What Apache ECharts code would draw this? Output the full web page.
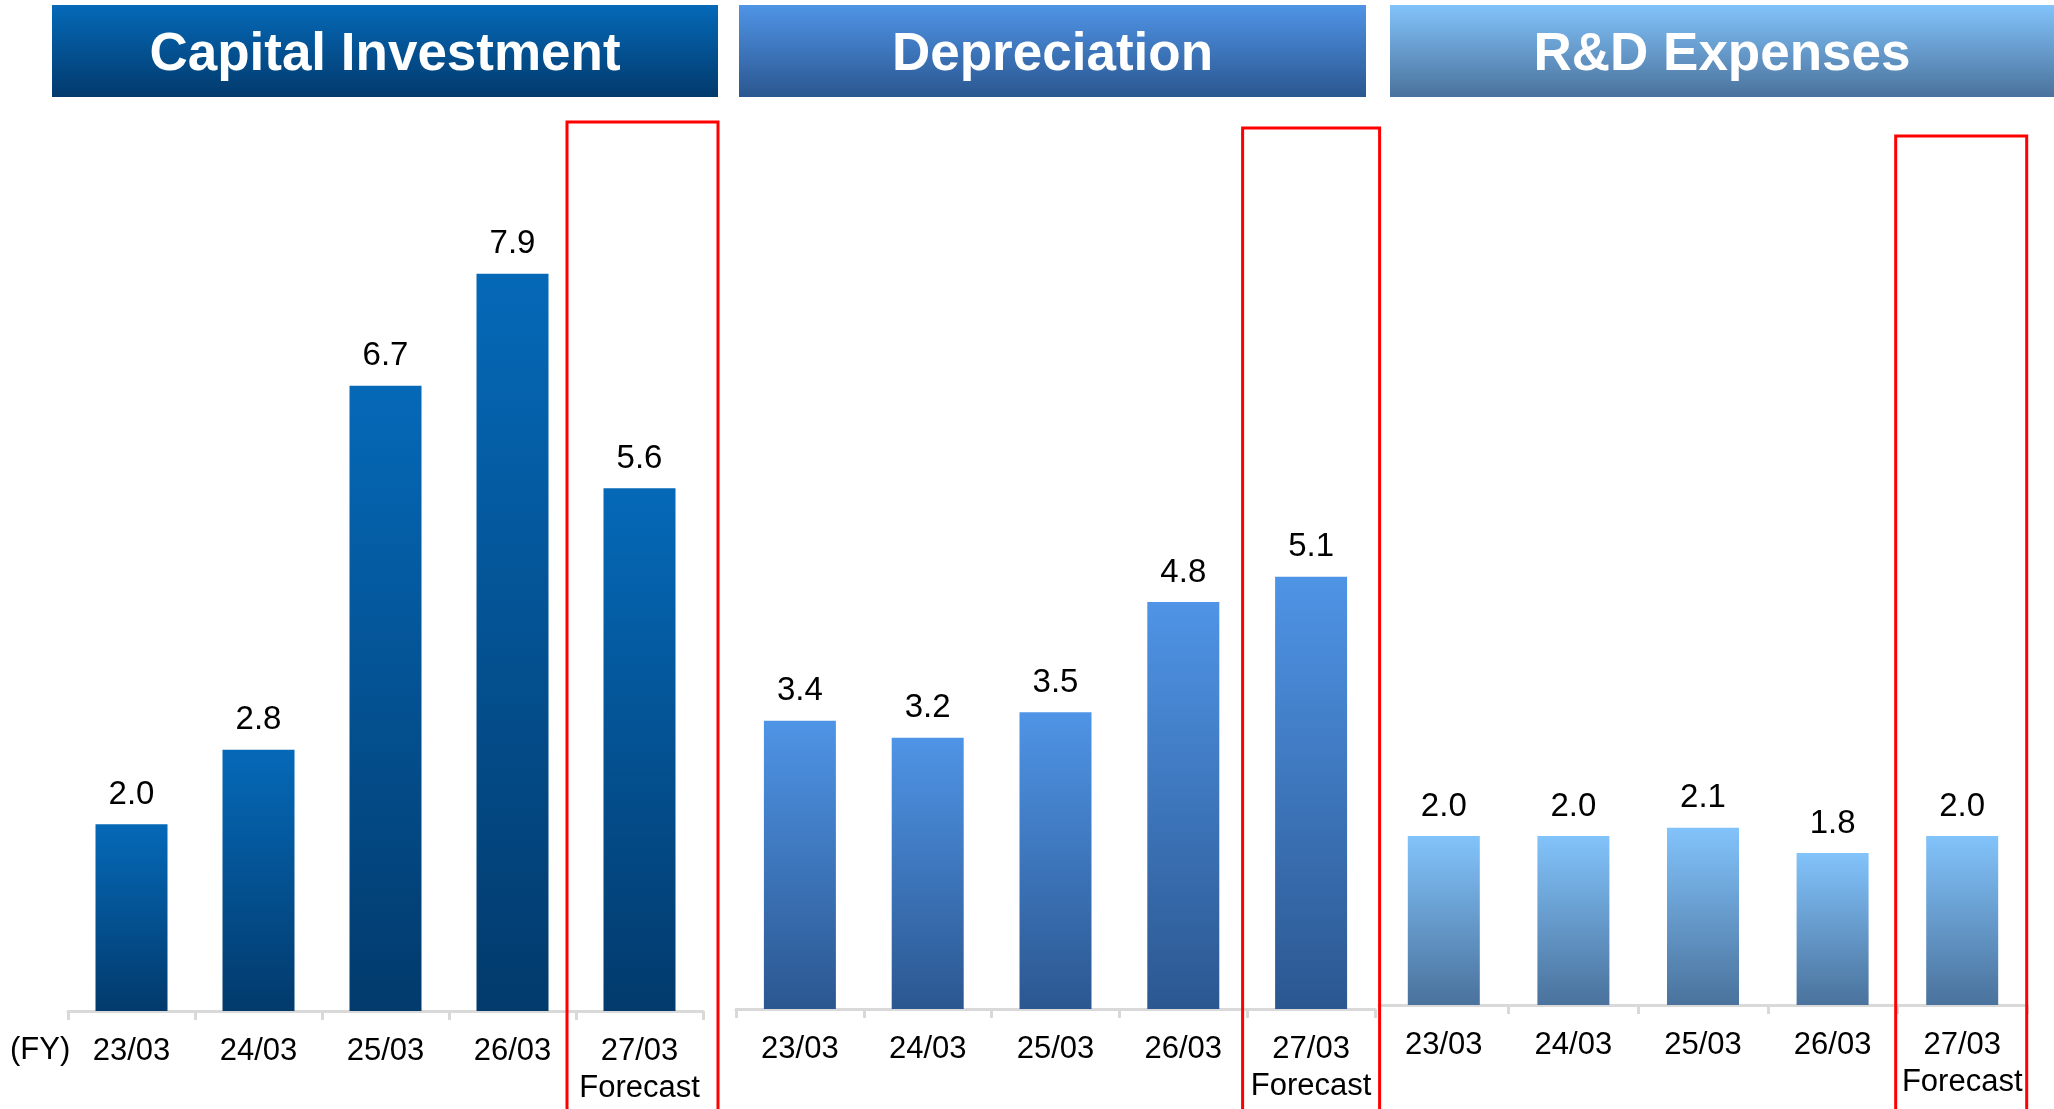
<!DOCTYPE html>
<html>
<head>
<meta charset="utf-8">
<title>Capital Investment / Depreciation / R&amp;D Expenses</title>
<script src="https://cdn.jsdelivr.net/npm/echarts@6/dist/echarts.min.js"></script>
<style>
  html, body { margin: 0; padding: 0; background: #fff; }
  #chart { width: 2054px; height: 1109px; }
</style>
</head>
<body>
<div id="chart"></div>
<script>
// data
const categories = ['23/03', '24/03', '25/03', '26/03', '27/03\nForecast'];
const capitalInvestment = [2.0, 2.8, 6.7, 7.9, 5.6];
const depreciation = [3.4, 3.2, 3.5, 4.8, 5.1];
const rdExpenses = [2.0, 2.0, 2.1, 1.8, 2.0];
const panelTitles = ['Capital Investment', 'Depreciation', 'R&D Expenses'];

// panel look: gradient top/bottom for banner + bars
const panelColors = [
  ['#0569b8', '#023a6c'],
  ['#4f94e6', '#2b5790'],
  ['#82c3fb', '#4a729c']
];
// grid placement for each panel
const grids = [
  { left: 68, width: 635, top: 171, bottom: 98 },
  { left: 736, width: 639, top: 246, bottom: 100 },
  { left: 1379, width: 648, top: 245, bottom: 104 }
];
const banners = [
  { x: 52, w: 666 },
  { x: 739, w: 627 },
  { x: 1390, w: 664 }
];
// red forecast boxes (width, top, shift from category centre)
const boxes = [
  { w: 151, top: 122, dx: 3 },
  { w: 137, top: 128, dx: 0 },
  { w: 131, top: 136, dx: -1 }
];
const seriesData = [capitalInvestment, depreciation, rdExpenses];

const font = '"Liberation Sans", Arial, sans-serif';
const chart = echarts.init(document.getElementById('chart'));

function grad(c) {
  return new echarts.graphic.LinearGradient(0, 0, 0, 1, [
    { offset: 0, color: c[0] },
    { offset: 1, color: c[1] }
  ]);
}

const option = {
  backgroundColor: '#fff',
  animation: false,
  grid: grids,
  xAxis: grids.map((g, i) => ({
    type: 'category',
    gridIndex: i,
    data: categories,
    boundaryGap: true,
    axisLine: { lineStyle: { color: '#d9d9d9', width: 3 } },
    axisTick: { show: true, length: 9, lineStyle: { color: '#d9d9d9', width: 3 } },
    axisLabel: {
      color: '#000',
      fontFamily: font,
      fontSize: 31,
      lineHeight: 37,
      margin: 22,
      interval: 0
    }
  })),
  yAxis: grids.map((g, i) => ({
    type: 'value',
    gridIndex: i,
    min: 0,
    max: 9,
    show: false,
    splitLine: { show: false }
  })),
  series: seriesData.map((d, i) => ({
    type: 'bar',
    xAxisIndex: i,
    yAxisIndex: i,
    data: d,
    barWidth: 72,
    itemStyle: { color: grad(panelColors[i]) },
    label: {
      show: true,
      position: 'top',
      distance: 13,
      color: '#000',
      fontFamily: font,
      fontSize: 33,
      formatter: p => p.value.toFixed(1)
    }
  }))
};
chart.setOption(option);

// banners, (FY) note and forecast boxes
const graphics = [];
panelTitles.forEach((t, i) => {
  const b = banners[i];
  graphics.push({
    type: 'rect',
    shape: { x: b.x, y: 5, width: b.w, height: 92 },
    style: { fill: grad(panelColors[i]) },
    z: 10
  });
  graphics.push({
    type: 'text',
    x: b.x + b.w / 2,
    y: 55,
    style: {
      text: t,
      fill: '#fff',
      font: 'bold 53px ' + font,
      textAlign: 'center',
      textVerticalAlign: 'middle'
    },
    z: 11
  });
  const bx = boxes[i];
  const cx = chart.convertToPixel({ xAxisIndex: i }, categories[4]) + bx.dx;
  graphics.push({
    type: 'rect',
    shape: { x: cx - bx.w / 2, y: bx.top, width: bx.w, height: 1109 - bx.top + 20 },
    style: { fill: 'none', stroke: '#ff0000', lineWidth: 3 },
    z: 20
  });
});
graphics.push({
  type: 'text',
  x: 10,
  y: 1050,
  style: {
    text: '(FY)',
    fill: '#000',
    font: '31px ' + font,
    textVerticalAlign: 'middle'
  }
});
chart.setOption({ graphic: graphics });
</script>
</body>
</html>
